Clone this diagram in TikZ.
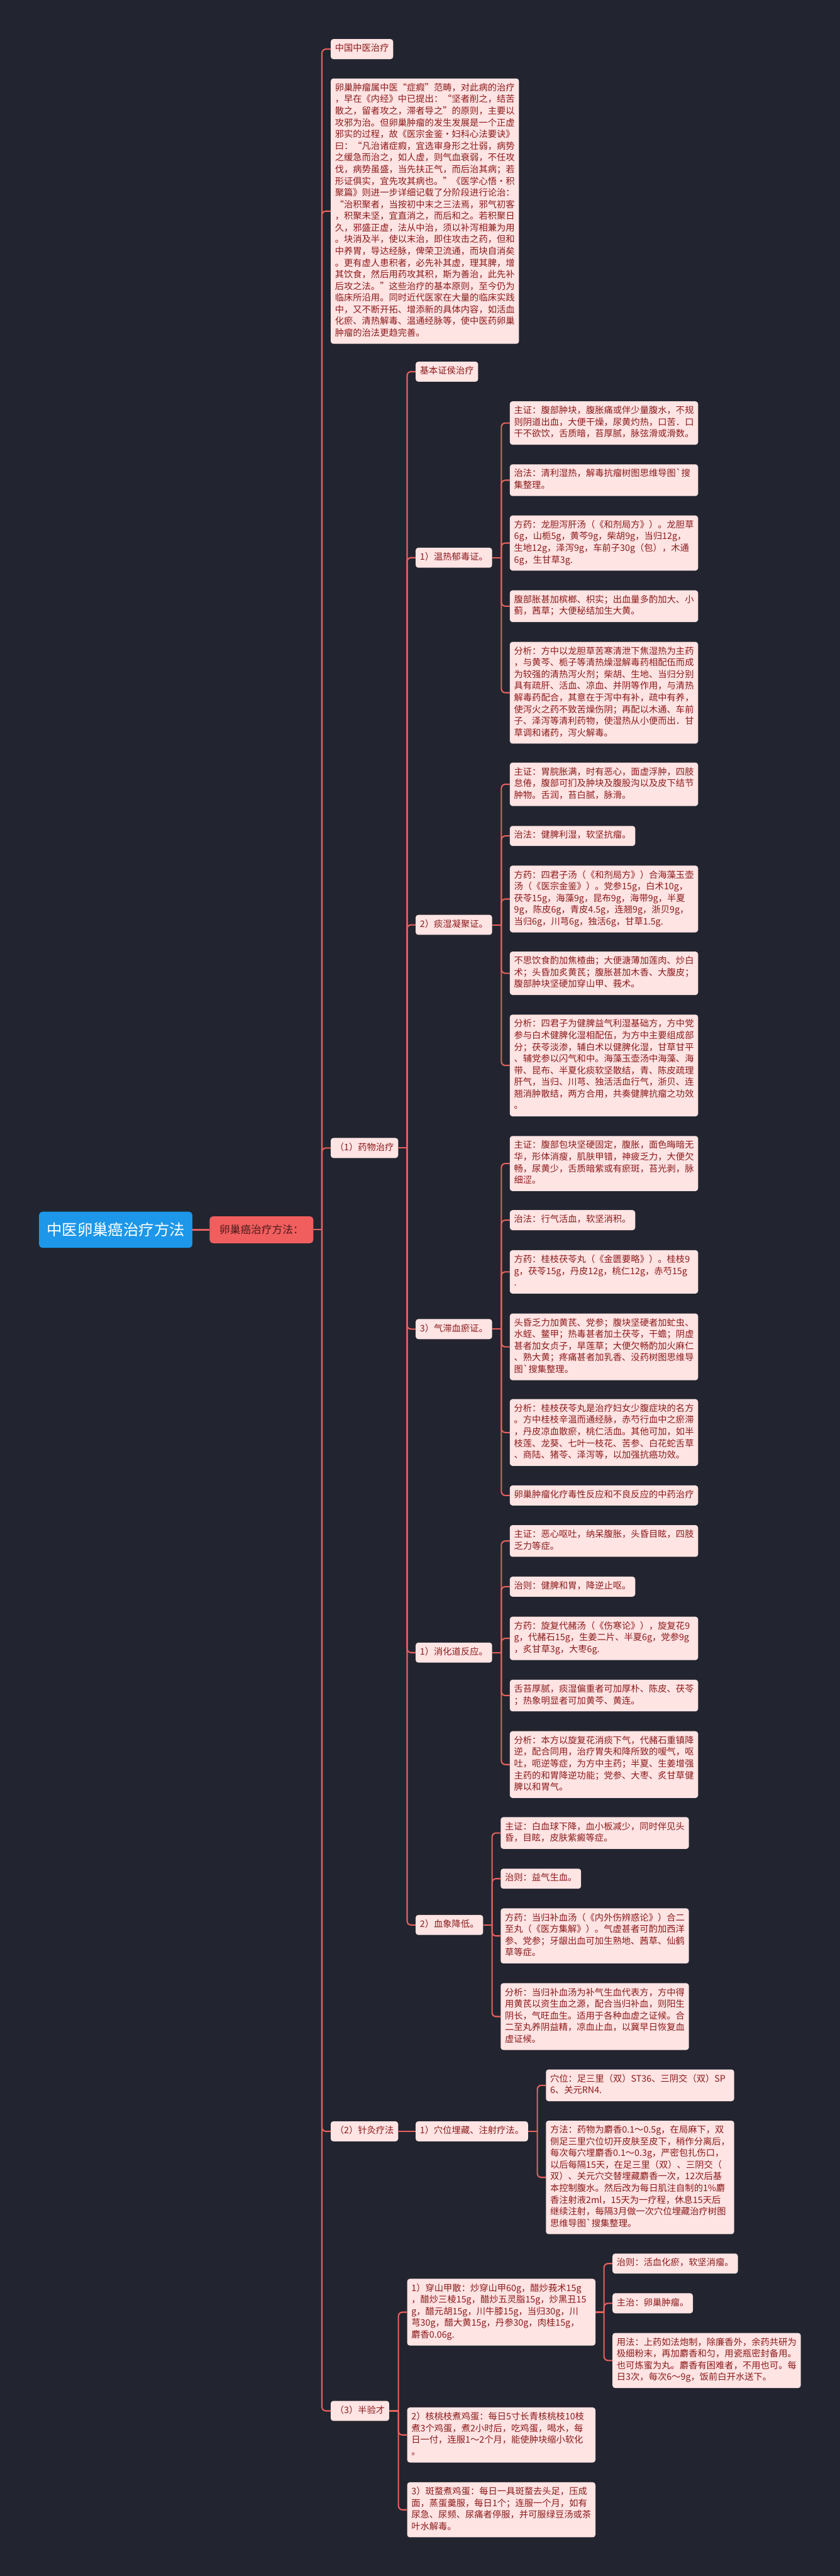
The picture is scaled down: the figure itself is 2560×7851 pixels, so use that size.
\documentclass[tikz,border=0pt]{standalone}
\usepackage{fontspec}
\newfontfamily\cjk{Noto Sans CJK SC}
\definecolor{bgnavy}{HTML}{22252F}
\definecolor{leafpink}{HTML}{FFE4E4}
\definecolor{leaftext}{HTML}{8B1A1A}
\definecolor{linkred}{HTML}{E8615F}
\definecolor{rootblue}{HTML}{1C97EA}
\definecolor{redfill}{HTML}{F15E5E}
\definecolor{redtext}{HTML}{4A1A1A}

\begin{document}
\begin{tikzpicture}[
    x=1pt, y=-1pt,
    note/.style={rectangle, fill=leafpink, rounded corners=8pt, anchor=north west, align=left,
                 inner xsep=13pt, inner ysep=12.7pt, text=leaftext,
                 font=\cjk\fontsize{27.4}{35.6}\selectfont,
                 execute at begin node=\strut, execute at end node=\strut},
    leaf/.style={note, text width=548pt},
    rootbox/.style={rectangle, fill=rootblue, rounded corners=10pt, anchor=west, text=white,
                    minimum height=110pt, inner xsep=23pt, font=\cjk\fontsize{46.8}{56}\selectfont},
    redbox/.style={rectangle, fill=redfill, rounded corners=10pt, anchor=west, text=redtext,
                   minimum height=82pt, inner xsep=30pt, font=\cjk\fontsize{32}{40}\selectfont},
    link/.style={draw=linkred, line width=4pt, rounded corners=12pt},
]

\fill[bgnavy] (0,0) rectangle (2560,7851);

% ── Root and first branch ──
\node[rootbox] (root) at (119,3748) {中医卵巢癌治疗方法};
\node[redbox] (way) at (639,3748) {卵巢癌治疗方法：};
\draw[link, line width=5pt] (root.east) -- (way.west);

% ── Main column ──
\node[note] (cn) at (1008,119) {中国中医治疗};
\node[leaf] (intro) at (1008,239) {卵巢肿瘤属中医“症瘕”范畴，对此病的治疗\\
，早在《内经》中已提出：“坚者削之，结苦\\
散之，留者攻之，滞者导之”的原则，主要以\\
攻邪为治。但卵巢肿瘤的发生发展是一个正虚\\
邪实的过程，故《医宗金鉴·妇科心法要诀》\\
曰：“凡治诸症瘕，宜选审身形之壮弱，病势\\
之缓急而治之，如人虚，则气血衰弱，不任攻\\
伐，病势虽盛，当先扶正气，而后治其病；若\\
形证俱实，宜先攻其病也。”《医学心悟·积\\
聚篇》则进一步详细记载了分阶段进行论治：\\
“治积聚者，当按初中末之三法焉，邪气初客\\
，积聚未坚，宜直消之，而后和之。若积聚日\\
久，邪盛正虚，法从中治，须以补泻相兼为用\\
。块消及半，使以末治，即住攻击之药，但和\\
中养胃，导达经脉，俾荣卫流通，而块自消矣\\
。更有虚人患积者，必先补其虚，理其脾，增\\
其饮食，然后用药攻其积，斯为善治，此先补\\
后攻之法。”这些治疗的基本原则，至今仍为\\
临床所沿用。同时近代医家在大量的临床实践\\
中，又不断开拓、增添新的具体内容，如活血\\
化瘀、清热解毒、温通经脉等，使中医药卵巢\\
肿瘤的治法更趋完善。};
\node[note] (med) at (1008,3468) {（1）药物治疗};
\node[note] (acu) at (1008,6465) {（2）针灸疗法};
\node[note] (folk) at (1008,7317) {（3）半验才};

\draw[link] (way.east) -- ++(26,0) coordinate (wayj);
\foreach \c in {cn,intro,med,acu,folk}
    \draw[link] (wayj) |- (\c.west);

% ── (1) 药物治疗 ──
\node[note] (basic) at (1267,1102) {基本证侯治疗};
\node[note] (wr) at (1267,1669) {1）温热郁毒证。};
\node[note] (ts) at (1267,2788) {2）痰湿凝聚证。};
\node[note] (qz) at (1267,4020) {3）气滞血瘀证。};
\node[note] (xh) at (1267,5006) {1）消化道反应。};
\node[note] (xx) at (1267,5836) {2）血象降低。};

\draw[link] (med.east) -- ++(27,0) coordinate (medj);
\foreach \c in {basic,wr,ts,qz,xh,xx}
    \draw[link] (medj) |- (\c.west);

% ── 1）温热郁毒证 ──
\node[leaf] (wr1) at (1554,1223) {主证：腹部肿块，腹胀痛或伴少量腹水，不规\\
则阴道出血，大便干燥，尿黄灼热，口苦．口\\
干不欲饮，舌质暗，苔厚腻，脉弦滑或滑数。};
\node[leaf] (wr2) at (1554,1415) {治法：清利湿热，解毒抗瘤树图思维导图\textasciigrave 搜\\
集整理。};
\node[leaf] (wr3) at (1554,1571) {方药：龙胆泻肝汤（《和剂局方》）。龙胆草\\
6g，山栀5g，黄芩9g，柴胡9g，当归12g，\\
生地12g，泽泻9g，车前子30g（包），木通\\
6g，生甘草3g.};
\node[leaf] (wr4) at (1554,1799) {腹部胀甚加槟榔、枳实；出血量多酌加大、小\\
蓟，茜草；大便秘结加生大黄。};
\node[leaf] (wr5) at (1554,1956) {分析：方中以龙胆草苦寒清泄下焦湿热为主药\\
，与黄芩、栀子等清热燥湿解毒药相配伍而成\\
为较强的清热泻火剂；柴胡、生地、当归分别\\
具有疏肝、活血、凉血、并阴等作用，与清热\\
解毒药配合，其意在于泻中有补，疏中有养，\\
使泻火之药不致苦燥伤阴；再配以木通、车前\\
子、泽泻等清利药物，使湿热从小便而出．甘\\
草调和诸药，泻火解毒。};

\draw[link] (wr.east) -- ++(28,0) coordinate (wrj);
\foreach \c in {wr1,wr2,wr3,wr4,wr5}
    \draw[link] (wrj) |- (\c.west);

% ── 2）痰湿凝聚证 ──
\node[leaf] (ts1) at (1554,2324) {主证：胃脘胀满，时有恶心，面虚浮肿，四肢\\
怠倦，腹部可扪及肿块及腹股沟以及皮下结节\\
肿物。舌润，苔白腻，脉滑。};
\node[note] (ts2) at (1554,2517) {治法：健脾利湿，软坚抗瘤。};
\node[leaf] (ts3) at (1554,2638) {方药：四君子汤（《和剂局方》）合海藻玉壶\\
汤（《医宗金鉴》）。党参15g，白术10g，\\
茯苓15g，海藻9g，昆布9g，海带9g，半夏\\
9g，陈皮6g，青皮4.5g，连翘9g，浙贝9g，\\
当归6g，川芎6g，独活6g，甘草1.5g.};
\node[leaf] (ts4) at (1554,2900) {不思饮食酌加焦楂曲；大便溏薄加莲肉、炒白\\
术；头昏加炙黄芪；腹胀甚加木香、大腹皮；\\
腹部肿块坚硬加穿山甲、莪术。};
\node[leaf] (ts5) at (1554,3092) {分析：四君子为健脾益气利湿基础方，方中党\\
参与白术健脾化湿相配伍，为方中主要组成部\\
分；茯苓淡渗，辅白术以健脾化湿，甘草甘平\\
、辅党参以闪气和中。海藻玉壶汤中海藻、海\\
带、昆布、半夏化痰软坚散结，青、陈皮疏理\\
肝气，当归、川芎、独活活血行气，浙贝、连\\
翘消肿散结，两方合用，共奏健脾抗瘤之功效\\
。};

\draw[link] (ts.east) -- ++(28,0) coordinate (tsj);
\foreach \c in {ts1,ts2,ts3,ts4,ts5}
    \draw[link] (tsj) |- (\c.west);

% ── 3）气滞血瘀证 ──
\node[leaf] (qz1) at (1554,3462) {主证：腹部包块坚硬固定，腹胀，面色晦暗无\\
华，形体消瘦，肌肤甲错，神疲乏力，大便欠\\
畅，尿黄少，舌质暗紫或有瘀斑，苔光剥，脉\\
细涩。};
\node[note] (qz2) at (1554,3688) {治法：行气活血，软坚消积。};
\node[leaf] (qz3) at (1554,3810) {方药：桂枝茯苓丸（《金匮要略》）。桂枝9\\
g，茯苓15g，丹皮12g，桃仁12g，赤芍15g\\
.};
\node[leaf] (qz4) at (1554,4003) {头昏乏力加黄芪、党参；腹块坚硬者加虻虫、\\
水蛭、鳖甲；热毒甚者加土茯苓，干蟾；阴虚\\
甚者加女贞子，旱莲草；大便欠畅酌加火麻仁\\
、熟大黄；疼痛甚者加乳香、没药树图思维导\\
图\textasciigrave 搜集整理。};
\node[leaf] (qz5) at (1554,4264) {分析：桂枝茯苓丸是治疗妇女少腹症块的名方\\
。方中桂枝辛温而通经脉，赤芍行血中之瘀滞\\
，丹皮凉血散瘀，桃仁活血。其他可加，如半\\
枝莲、龙葵、七叶一枝花、苦参、白花蛇舌草\\
、商陆、猪苓、泽泻等，以加强抗癌功效。};
\node[leaf] (qz6) at (1554,4527) {卵巢肿瘤化疗毒性反应和不良反应的中药治疗};

\draw[link] (qz.east) -- ++(28,0) coordinate (qzj);
\foreach \c in {qz1,qz2,qz3,qz4,qz5,qz6}
    \draw[link] (qzj) |- (\c.west);

% ── 1）消化道反应 ──
\node[leaf] (xh1) at (1554,4648) {主证：恶心呕吐，纳呆腹胀，头昏目眩，四肢\\
乏力等症。};
\node[note] (xh2) at (1554,4805) {治则：健脾和胃，降逆止呕。};
\node[leaf] (xh3) at (1554,4927) {方药：旋复代赭汤（《伤寒论》），旋复花9\\
g，代赭石15g，生姜二片、半夏6g，党参9g\\
，炙甘草3g，大枣6g.};
\node[leaf] (xh4) at (1554,5119) {舌苔厚腻，痰湿偏重者可加厚朴、陈皮、茯苓\\
；热象明显者可加黄芩、黄连。};
\node[leaf] (xh5) at (1554,5276) {分析：本方以旋复花消痰下气，代赭石重镇降\\
逆，配合同用，治疗胃失和降所致的嗳气，呕\\
吐，呃逆等症，为方中主药；半夏、生姜增强\\
主药的和胃降逆功能；党参、大枣、炙甘草健\\
脾以和胃气。};

\draw[link] (xh.east) -- ++(28,0) coordinate (xhj);
\foreach \c in {xh1,xh2,xh3,xh4,xh5}
    \draw[link] (xhj) |- (\c.west);

% ── 2）血象降低 ──
\node[leaf] (xx1) at (1526,5538) {主证：白血球下降，血小板减少，同时伴见头\\
昏，目眩，皮肤紫癜等症。};
\node[note] (xx2) at (1526,5695) {治则：益气生血。};
\node[leaf] (xx3) at (1526,5816) {方药：当归补血汤（《内外伤辨惑论》）合二\\
至丸（《医方集解》）。气虚甚者可酌加西洋\\
参、党参；牙龈出血可加生熟地、茜草、仙鹤\\
草等症。};
\node[leaf] (xx4) at (1526,6044) {分析：当归补血汤为补气生血代表方，方中得\\
用黄芪以资生血之源，配合当归补血，则阳生\\
阴长，气旺血生。适用于各种血虚之证候。合\\
二至丸养阴益精，凉血止血，以冀早日恢复血\\
虚证候。};

\draw[link] (xx.east) -- ++(27,0) coordinate (xxj);
\foreach \c in {xx1,xx2,xx3,xx4}
    \draw[link] (xxj) |- (\c.west);

% ── (2) 针灸疗法 ──
\node[note] (acu1) at (1267,6465) {1）穴位埋藏、注射疗法。};
\draw[link] (acu.east) -- (acu1.west);

\node[leaf] (ac1) at (1664,6307) {穴位：足三里（双）ST36、三阴交（双）SP\\
6、关元RN4.};
\node[leaf] (ac2) at (1664,6463) {方法：药物为麝香0.1～0.5g，在局麻下，双\\
侧足三里穴位切开皮肤至皮下，稍作分离后，\\
每次每穴埋麝香0.1～0.3g，严密包扎伤口，\\
以后每隔15天，在足三里（双）、三阴交（\\
双）、关元穴交替埋藏麝香一次，12次后基\\
本控制腹水。然后改为每日肌注自制的1\%麝\\
香注射液2ml，15天为一疗程，休息15天后\\
继续注射，每隔3月做一次穴位埋藏治疗树图\\
思维导图\textasciigrave 搜集整理。};

\draw[link] (acu1.east) -- ++(28,0) coordinate (acj);
\foreach \c in {ac1,ac2}
    \draw[link] (acj) |- (\c.west);

% ── (3) 半验才 ──
\node[leaf] (f1) at (1241,6945) {1）穿山甲散：炒穿山甲60g，醋炒莪术15g\\
，醋炒三棱15g，醋炒五灵脂15g，炒黑丑15\\
g，醋元胡15g，川牛膝15g，当归30g，川\\
芎30g，醋大黄15g，丹参30g，肉桂15g，\\
麝香0.06g.};
\node[leaf] (f2) at (1241,7337) {2）核桃枝煮鸡蛋：每日5寸长青核桃枝10枝\\
煮3个鸡蛋，煮2小时后，吃鸡蛋，喝水，每\\
日一付，连服1～2个月，能使肿块缩小软化\\
。};
\node[leaf] (f3) at (1241,7565) {3）斑蝥煮鸡蛋：每日一具斑蝥去头足，压成\\
面，蒸蛋羹服，每日1个；连服一个月，如有\\
尿急、尿频、尿痛者停服，并可服绿豆汤或茶\\
叶水解毒。};

\draw[link] (folk.east) -- ++(28,0) coordinate (folkj);
\foreach \c in {f1,f2,f3}
    \draw[link] (folkj) |- (\c.west);

\node[note] (f11) at (1867,6868) {治则：活血化瘀，软坚消瘤。};
\node[note] (f12) at (1867,6989) {主治：卵巢肿瘤。};
\node[leaf] (f13) at (1867,7110) {用法：上药如法炮制，除廉香外，余药共研为\\
极细粉末，再加麝香和匀，用瓷瓶密封备用。\\
也可炼蜜为丸。麝香有困难者，不用也可。每\\
日3次，每次6～9g，饭前白开水送下。};

\draw[link] (f1.east) -- ++(26,0) coordinate (f1j);
\foreach \c in {f11,f12,f13}
    \draw[link] (f1j) |- (\c.west);

\end{tikzpicture}
\end{document}
